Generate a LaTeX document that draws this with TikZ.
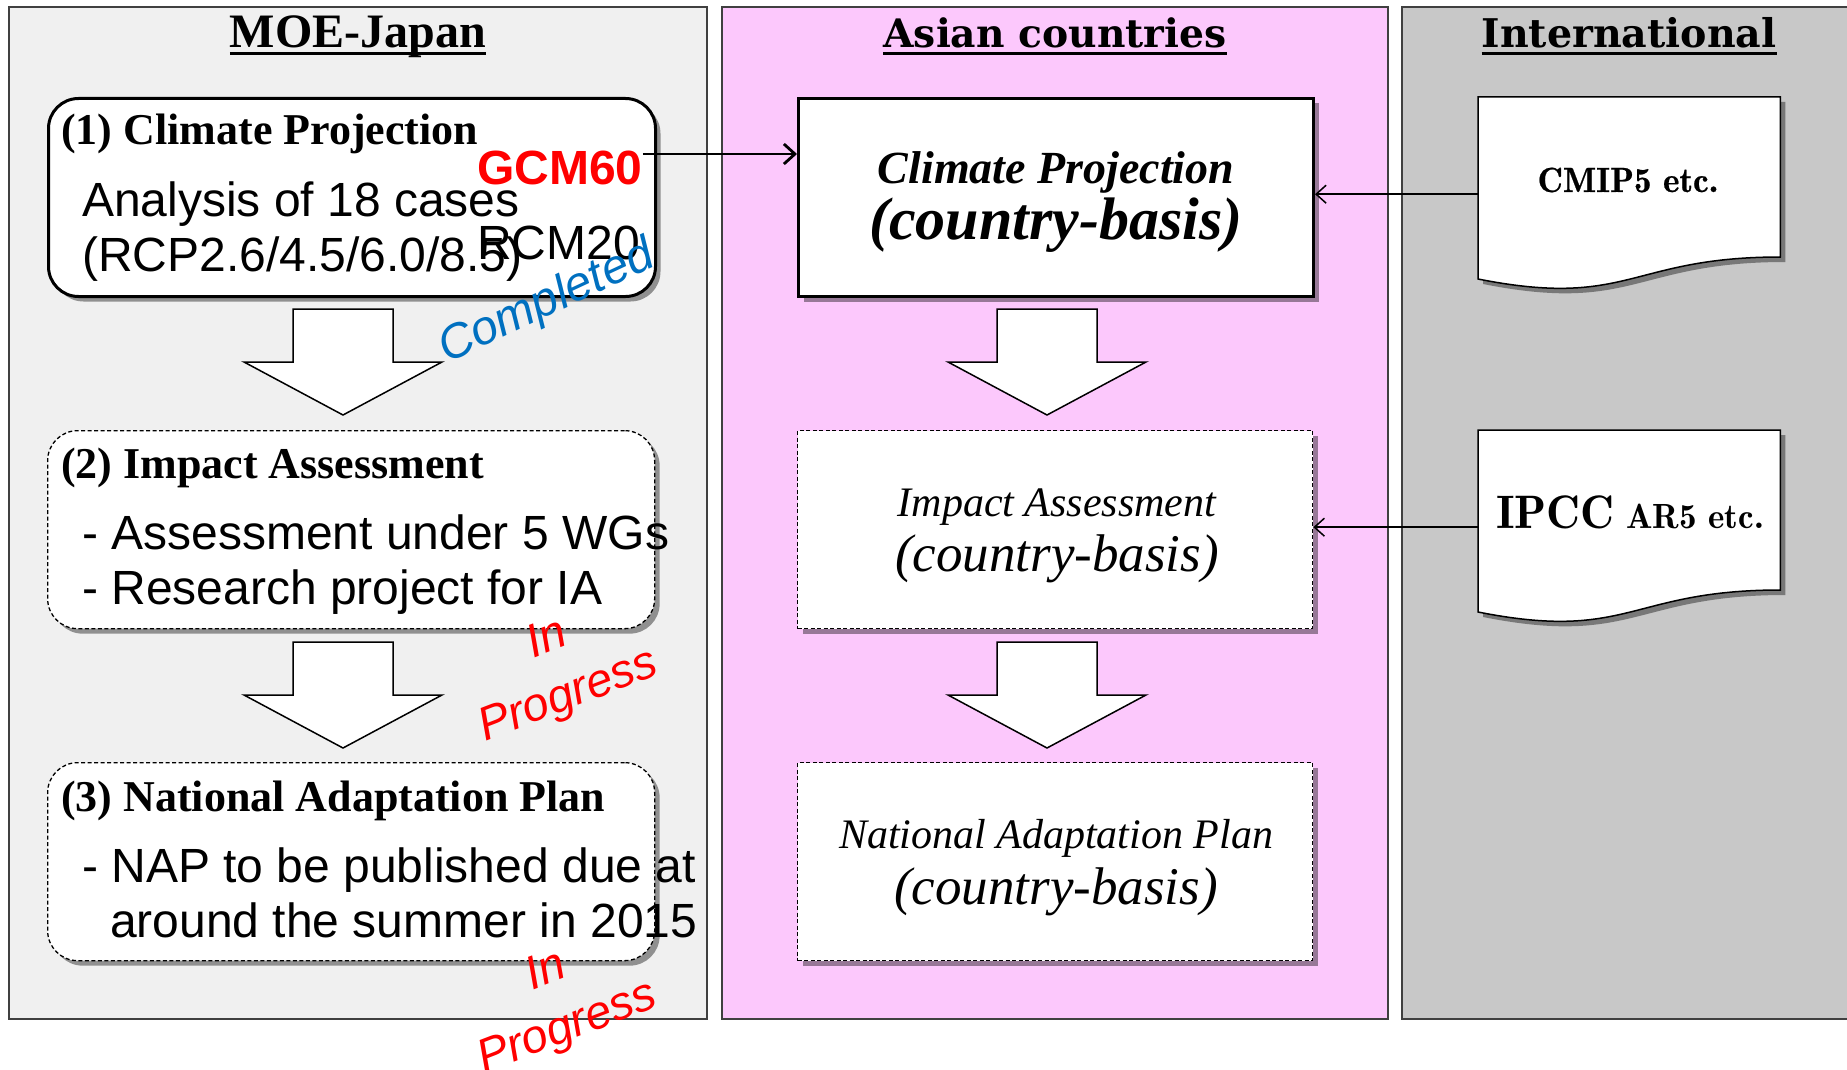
\documentclass[tikz,border=0pt]{standalone}
\usepackage{fontspec}
\usetikzlibrary{shadows,arrows.meta,calc}
\newfontfamily\tnr{Liberation Serif}
\newfontfamily\arial{Liberation Sans}
\newfontfamily\djs{DejaVu Serif}
\newfontfamily\lmdemi{lmromandemi10-regular.otf}
\newcommand\fs[2]{\fontsize{#1}{#2}\selectfont}
\newcommand\ulbox[1]{\setbox0\hbox{#1}\rlap{\rule[-7pt]{\wd0}{2.5pt}}\box0}
\definecolor{pgray}{HTML}{F0F0F0}
\definecolor{ppink}{HTML}{FCC8FC}
\definecolor{pdark}{HTML}{C8C8C8}
\definecolor{compblue}{HTML}{0070C0}
\newcommand\barrow[2]{\draw[blockarrow] ({#1-50},{#2}) -- ({#1+50},{#2}) -- ({#1+50},{#2+53}) -- ({#1+99},{#2+53}) -- ({#1},{#2+106}) -- ({#1-99},{#2+53}) -- ({#1-50},{#2+53}) -- cycle;}
\begin{document}
\begin{tikzpicture}[x=1pt,y=-1pt,
  panel/.style={draw=black!75, line width=1.5pt},
  shadowed/.style={drop shadow={shadow xshift=5pt,shadow yshift=-5pt,opacity=.4,fill=black}},
  rbox/.style={draw, fill=white, rounded corners=30pt, minimum width=607pt, minimum height=198pt, anchor=north west, inner sep=0pt, shadowed},
  abox/.style={draw, fill=white, minimum width=515pt, minimum height=198pt, anchor=north west, inner sep=0pt, shadowed},
  solidline/.style={line width=3pt},
  dashline/.style={line width=1.3pt, dash pattern=on 4pt off 2.5pt},
  blockarrow/.style={draw, fill=white, line width=1.5pt, line join=miter},
  lefttext/.style={anchor=base west, inner sep=0pt},
  ctext/.style={anchor=base, inner sep=0pt},
  hbold/.style={font=\tnr\bfseries\fs{44}{50}},
  body/.style={font=\arial\fs{48}{55}},
  docnode/.style={inner sep=0pt, minimum width=302pt, minimum height=194pt, anchor=north west},
  docshape/.style={draw, fill=white, line width=1.5pt, shadowed},
  thinarrow/.style={line width=1.5pt, -{Straight Barb[length=10pt,width=18pt,line width=1.5pt]}},
  gcmarrow/.style={line width=2.8pt, -{Straight Barb[length=11pt,width=20pt,line width=2.8pt]}}
]
\useasboundingbox (0,0) rectangle (1847,1070);
\fill[white] (0,0) rectangle (1847,1070);
% panels
\draw[panel, fill=pgray] (9,7) rectangle (707,1019);
\draw[panel, fill=ppink] (722,7) rectangle (1388,1019);
\draw[panel, fill=pdark] (1402,7) rectangle (1870,1019);
% titles
\node[ctext, font=\tnr\bfseries\fs{48}{50}] (t1) at (358,48) {\ulbox{MOE-Japan}};
\node[ctext, font=\djs\bfseries\fs{40}{50}] (t2) at (1055,48) {\ulbox{\resizebox{343pt}{!}{Asian countries}}};
\node[ctext, font=\djs\bfseries\fs{40}{50}] (t3) at (1629,48) {\ulbox{\resizebox{295pt}{!}{International}}};
% left boxes
\node[rbox, solidline] (cp) at (47,97) {};
\node[rbox, dashline] (ia) at (47,430) {};
\node[rbox, dashline] (nap) at (47,762) {};
% block arrows
\barrow{343}{309}
\barrow{343}{642}
\barrow{1047}{309}
\barrow{1047}{642}
% left texts
\node[lefttext, hbold] (cph) at (61,145) {(1) Climate Projection};
\node[lefttext, body] (cp1) at (82,216) {Analysis of 18 cases};
\node[lefttext, body] (cp2) at (82,271) {(RCP2.6/4.5/6.0/8.5)};
\node[lefttext, font=\arial\bfseries\fs{48}{55}, text=red] (gcm) at (477,184) {GCM60};
\node[lefttext, body] (rcm) at (477,259) {RCM20};
\node[lefttext, hbold] (iah) at (61,478) {(2) Impact Assessment};
\node[lefttext, body] (ia1) at (82,549) {- Assessment under 5 WGs};
\node[lefttext, body] (ia2) at (82,604) {- Research project for IA};
\node[lefttext, hbold] (naph) at (61,811) {(3) National Adaptation Plan};
\node[lefttext, body] (nap1) at (82,882) {- NAP to be published due at};
\node[lefttext, body] (nap2) at (110,937) {around the summer in 2015};
% Asian boxes
\node[abox, solidline] (acp) at (797,97) {};
\node[abox, dashline] (aia) at (797,430) {};
\node[abox, dashline] (anap) at (797,762) {};
\node[ctext, font=\tnr\bfseries\itshape\fs{46}{50}] (acp1) at (1056,183) {Climate Projection};
\node[ctext, font=\tnr\bfseries\itshape\fs{60}{60}] (acp2) at (1056,239) {(country-basis)};
\node[ctext, font=\tnr\itshape\fs{42}{50}] (aia1) at (1057,516) {Impact Assessment};
\node[ctext, font=\tnr\itshape\fs{53}{60}] (aia2) at (1057,571) {(country-basis)};
\node[ctext, font=\tnr\itshape\fs{42}{50}] (anap1) at (1056,848) {National Adaptation Plan};
\node[ctext, font=\tnr\itshape\fs{53}{60}] (anap2) at (1056,904) {(country-basis)};
% documents
\node[docnode] (cmip) at (1478,97) {};
\draw[docshape] (cmip.north west) -- (cmip.north east) -- ($(cmip.north east)+(0,160)$)
  .. controls ($(cmip.north east)+(-151,160)$) and ($(cmip.north east)+(-151,212)$) .. ($(cmip.north west)+(0,182)$) -- cycle;
\node[docnode] (ipcc) at (1478,430) {};
\draw[docshape] (ipcc.north west) -- (ipcc.north east) -- ($(ipcc.north east)+(0,160)$)
  .. controls ($(ipcc.north east)+(-151,160)$) and ($(ipcc.north east)+(-151,212)$) .. ($(ipcc.north west)+(0,182)$) -- cycle;
\node[ctext, font=\lmdemi\addfontfeature{FakeBold=0.6}\fs{35}{40}] (cmipt) at (1628,192) {CMIP5 etc.};
\node[ctext, font=\lmdemi\fs{35}{40}] (ipcct) at (1630,528) {{\fs{47}{50}IPCC} AR5 etc.};
% connectors
\coordinate (gy) at (0,154);
\draw[gcmarrow] (gcm.east |- gy) -- (acp.west |- gy);
\draw[thinarrow] (cmip.west) -- (acp.east |- cmip.west);
\draw[thinarrow] (ipcc.west) -- (aia.east |- ipcc.west);
% status labels
\node[rotate=25, font=\arial\itshape\fs{48}{50}, text=compblue, inner sep=0pt] (comp) at (547,303) {Completed};
\node[rotate=21, align=center, font=\arial\itshape\fs{47}{60}, text=red, inner sep=0pt] (prog1) at (558,669) {In\\Progress};
\node[rotate=21, align=center, font=\arial\itshape\fs{47}{60}, text=red, inner sep=0pt] (prog2) at (557,1001) {In\\Progress};
\end{tikzpicture}
\end{document}
